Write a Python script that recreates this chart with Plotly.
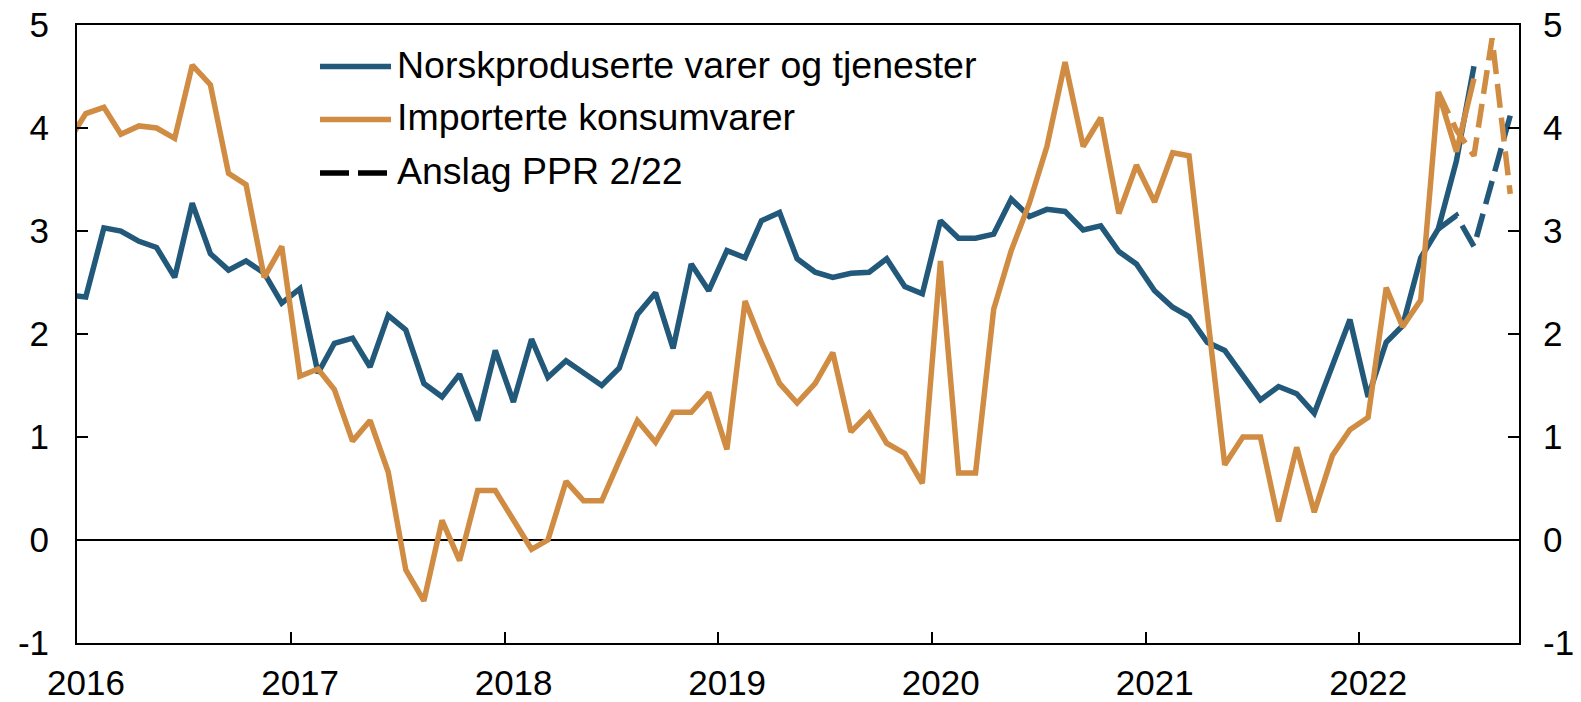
import pandas as pd
import plotly.graph_objects as go

# ---------------- data ----------------
start_month = "2015-12"          # first observation (Dec 2015), monthly to Jul 2022
norsk = [2.38,
         2.36, 3.03, 3.00, 2.90, 2.84, 2.55, 3.27, 2.78, 2.62, 2.71, 2.59, 2.30,
         2.44, 1.62, 1.91, 1.96, 1.68, 2.18, 2.04, 1.52, 1.39, 1.61, 1.16, 1.84,
         1.34, 1.95, 1.58, 1.74, 1.62, 1.50, 1.67, 2.19, 2.40, 1.86, 2.68, 2.42,
         2.81, 2.74, 3.10, 3.18, 2.73, 2.60, 2.55, 2.59, 2.60, 2.73, 2.46, 2.39,
         3.10, 2.93, 2.93, 2.97, 3.31, 3.14, 3.21, 3.19, 3.01, 3.05, 2.80, 2.68,
         2.42, 2.26, 2.17, 1.92, 1.84, 1.59, 1.36, 1.49, 1.42, 1.23, 1.68, 2.14,
         1.39, 1.92, 2.08, 2.74, 3.02, 3.68, 4.60]
import_ = [3.86,
           4.14, 4.20, 3.94, 4.02, 4.00, 3.90, 4.61, 4.42, 3.56, 3.45, 2.55, 2.85,
           1.59, 1.66, 1.46, 0.96, 1.16, 0.66, -0.29, -0.59, 0.19, -0.20, 0.48, 0.48,
           0.19, -0.09, 0.00, 0.57, 0.38, 0.38, 0.77, 1.16, 0.95, 1.24, 1.24, 1.43,
           0.88, 2.32, 1.92, 1.52, 1.33, 1.52, 1.82, 1.05, 1.23, 0.94, 0.84, 0.55,
           2.71, 0.65, 0.65, 2.24, 2.81, 3.27, 3.82, 4.64, 3.82, 4.10, 3.17, 3.64,
           3.28, 3.76, 3.73, 2.23, 0.73, 1.00, 1.00, 0.18, 0.90, 0.27, 0.82, 1.07,
           1.19, 2.45, 2.07, 2.33, 4.35, 3.77, 4.48]

fc_start_month = "2022-05"       # PPR 2/22 forecasts, May-Sep 2022
norsk_fc = [3.02, 3.15, 2.85, 3.49, 4.12]
import_fc = [4.35, 3.98, 3.73, 4.87, 3.36]

years = [2016, 2017, 2018, 2019, 2020, 2021, 2022]
y_ticks = [-1, 0, 1, 2, 3, 4, 5]
y_ticktext = ["-1", "0", "1", "2", "3", "4", "5"]

legend_labels = ["Norskproduserte varer og tjenester",
                 "Importerte konsumvarer",
                 "Anslag PPR 2/22"]

# ---------------- style ----------------
BLUE = "#22597A"
ORANGE = "#D08C42"
FONT = "Liberation Sans, Arial, sans-serif"
LW = 5.5
DASH = "24px,10px"

def mid_month(start, n):
    return pd.date_range(start + "-01", periods=n, freq="MS") + pd.Timedelta(days=15)

x_act = mid_month(start_month, len(norsk))
x_fc = mid_month(fc_start_month, len(norsk_fc))

fig = go.Figure()
fig.add_trace(go.Scatter(x=x_act, y=norsk, mode="lines",
                         line=dict(color=BLUE, width=LW), showlegend=False))
fig.add_trace(go.Scatter(x=x_act, y=import_, mode="lines",
                         line=dict(color=ORANGE, width=LW), showlegend=False))
fig.add_trace(go.Scatter(x=x_fc, y=norsk_fc, mode="lines", yaxis="y2",
                         line=dict(color=BLUE, width=LW, dash=DASH), showlegend=False))
fig.add_trace(go.Scatter(x=x_fc, y=import_fc, mode="lines", yaxis="y2",
                         line=dict(color=ORANGE, width=LW, dash=DASH), showlegend=False))

# figure fills the window (body margin removed in post_script)
W, H = 1581, 702
PLOT_L, PLOT_T, PLOT_R, PLOT_B = 77, 25, 1519, 643      # plot area in page pixels
L, T, R, B = PLOT_L, PLOT_T, W - PLOT_R, H - PLOT_B

tickfont = dict(family=FONT, size=35, color="black")

fig.update_layout(
    template="none",
    width=W, height=H,
    margin=dict(l=L, r=R, t=T, b=B, pad=0, autoexpand=False),
    paper_bgcolor="white", plot_bgcolor="white",
    showlegend=False,
    xaxis=dict(
        type="date", automargin=False,
        range=["2016-01-01", "2022-10-01"],
        tickvals=[f"{y}-01-01" for y in years],
        ticktext=[str(y) for y in years],
        ticks="inside", ticklen=11, tickwidth=2, tickcolor="black",
        showline=True, linecolor="black", linewidth=2, mirror=True,
        showgrid=False, zeroline=False,
        tickfont=tickfont, ticklabeloverflow="allow",
        ticklabelshift=9, ticklabelstandoff=8,
    ),
    yaxis=dict(
        range=[-1, 5], automargin=False,
        tickvals=y_ticks, ticktext=y_ticktext,
        ticks="inside", ticklen=11, tickwidth=2, tickcolor="black",
        showline=True, linecolor="black", linewidth=2, mirror=True,
        showgrid=False,
        zeroline=True, zerolinecolor="black", zerolinewidth=1.5,
        tickfont=tickfont, ticklabeloverflow="allow",
        ticklabelstandoff=19,
    ),
    yaxis2=dict(
        range=[-1, 5], overlaying="y", side="right", anchor="x", automargin=False,
        tickvals=y_ticks, ticktext=y_ticktext,
        ticks="inside", ticklen=11, tickwidth=2, tickcolor="black",
        showline=False, showgrid=False, zeroline=False,
        tickfont=tickfont, ticklabeloverflow="allow",
        ticklabelstandoff=23,
    ),
)

# ---------------- manual legend (page-pixel positions -> paper coords) ----------------
def px_x(x):
    return (x - PLOT_L) / (PLOT_R - PLOT_L)

def px_y(y):
    return (PLOT_B - y) / (PLOT_B - PLOT_T)

rows_y = [66.5, 119.5, 173]
colors = [BLUE, ORANGE, "black"]
dashes = ["solid", "solid", "29px,9px"]
for yy, col, dsh, lab in zip(rows_y, colors, dashes, legend_labels):
    fig.add_shape(type="line", xref="paper", yref="paper",
                  x0=px_x(320), x1=px_x(391), y0=px_y(yy), y1=px_y(yy),
                  line=dict(color=col, width=LW, dash=dsh))
    fig.add_annotation(xref="paper", yref="paper", x=px_x(395), y=px_y(yy - 2),
                       text=lab, showarrow=False, xanchor="left", yanchor="middle",
                       font=dict(family=FONT, size=37.5, color="black"))

fig.write_html("out.html",
               config={"displayModeBar": False},
               post_script="document.body.style.margin='0px';document.body.style.overflow='hidden';")
